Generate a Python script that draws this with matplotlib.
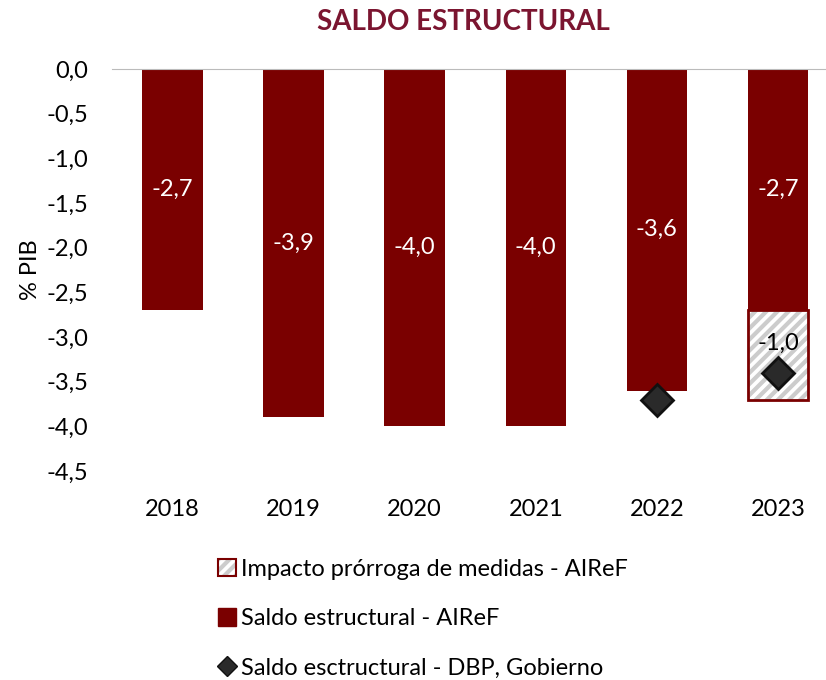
import numpy as np
import matplotlib.pyplot as plt
from matplotlib.patches import Patch
from matplotlib.lines import Line2D
from matplotlib.legend_handler import HandlerTuple

plt.rcParams['font.family'] = ['Lato', 'DejaVu Sans']
plt.rcParams['hatch.linewidth'] = 3.0

years = ['2018', '2019', '2020', '2021', '2022', '2023']
saldo_airef = [-2.7, -3.9, -4.0, -4.0, -3.6, -2.7]
impacto_prorroga = [0, 0, 0, 0, 0, -1.0]
saldo_dbp = [np.nan, np.nan, np.nan, np.nan, -3.7, -3.4]

maroon = '#7a0000'
title_col = '#7b1530'
hatch_gray = '#cccccc'

fig = plt.figure(figsize=(8.26, 6.80), dpi=100)
ax = fig.add_axes([112 / 826, 209 / 680, 726.5 / 826, 402 / 680])

x = np.arange(len(years))
w = 0.5
ax.bar(x, saldo_airef, width=w, color=maroon, zorder=2)

# extension of the measures, stacked below the AIReF balance
imp = np.array(impacto_prorroga)
base = np.array(saldo_airef)
m = imp != 0
ax.bar(x[m], imp[m], bottom=base[m], width=w, color='white', hatch='///',
       edgecolor=hatch_gray, linewidth=0, zorder=2)
ax.bar(x[m], imp[m], bottom=base[m], width=w, fill=False,
       edgecolor=maroon, linewidth=2, zorder=3)

ax.plot(x, saldo_dbp, linestyle='none', marker='D', markersize=16,
        markerfacecolor='#2a2a2a', markeredgecolor='#111111',
        markeredgewidth=2, zorder=4)

for xi, v in zip(x, saldo_airef):
    ax.text(xi, v / 2, f'{v:.1f}'.replace('.', ','), ha='center', va='center',
            color='white', fontsize=17, zorder=5)
for xi, b, v in zip(x[m], base[m], imp[m]):
    ax.text(xi, b + v * 0.37, f'{v:.1f}'.replace('.', ','), ha='center',
            va='center', color='black', fontsize=17, zorder=5)

ax.set_ylim(-4.5, 0)
ax.set_xlim(-0.5, len(years) - 0.5)
ticks = np.arange(0, -4.51, -0.5)
ax.set_yticks(ticks)
ax.set_yticklabels([f'{t:.1f}'.replace('.', ',') for t in ticks])
ax.set_xticks(x)
ax.set_xticklabels(years)
ax.tick_params(length=0, labelsize=17)
ax.tick_params(axis='y', pad=17)
ax.tick_params(axis='x', pad=20)
for s in ['left', 'right', 'bottom']:
    ax.spines[s].set_visible(False)
ax.spines['top'].set_color('#bbbbbb')
ax.set_ylabel('% PIB', fontsize=17, labelpad=4)

fig.text(463 / 826, 1 - 22 / 680, 'SALDO ESTRUCTURAL', ha='center', va='center',
         fontsize=20, fontweight='bold', color=title_col)

imp_handle = (Patch(facecolor='white', edgecolor=hatch_gray, hatch='///', linewidth=0),
              Patch(fill=False, edgecolor=maroon, linewidth=1.5))
handles = [
    imp_handle,
    Patch(facecolor=maroon, edgecolor=maroon),
    Line2D([], [], linestyle='none', marker='D', markersize=10,
           markerfacecolor='#2a2a2a', markeredgecolor='#111111'),
]
labels = ['Impacto prórroga de medidas - AIReF',
          'Saldo estructural - AIReF',
          'Saldo esctructural - DBP, Gobierno']
fig.legend(handles, labels, loc='upper left', bbox_to_anchor=(206 / 826, 1 - 547 / 680),
           frameon=False, fontsize=17, handlelength=0.75, handleheight=0.75,
           handletextpad=0.25, labelspacing=1.2, borderpad=0,
           handler_map={tuple: HandlerTuple(ndivide=1, pad=0)})

fig.savefig('out.png', dpi=100)
